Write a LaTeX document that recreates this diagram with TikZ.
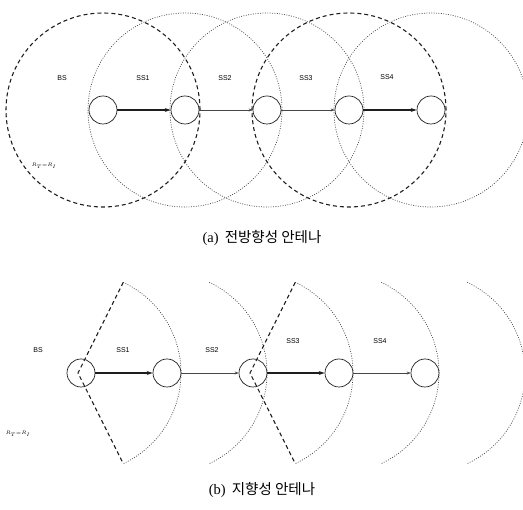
\documentclass[tikz,border=0pt]{standalone}
\usepackage{fontspec}
\setmainfont{Liberation Serif}
\setsansfont{Liberation Sans}
\newfontfamily\krfont{Noto Sans CJK KR}
\usetikzlibrary{arrows.meta}
\definecolor{ant@gray}{RGB}{70, 70, 70}
\definecolor{ant@dark}{RGB}{30, 30, 30}

\begin{document}
\begin{tikzpicture}[
  x=1pt, y=1pt,
  stn/.style    = {circle, draw=ant@dark, line width=0.7pt, minimum size=28pt,
                   inner sep=0pt},
  txrange/.style = {draw=ant@dark, dash pattern=on 4pt off 3pt, line width=1.1pt},
  rxrange/.style = {draw=ant@gray, dash pattern=on 0.9pt off 1.5pt, line width=0.7pt},
  strong/.style = {-{Stealth[length=6pt,width=4pt]}, ant@dark, line width=1.7pt},
  weak/.style   = {-{Stealth[length=4pt,width=3pt]}, ant@gray, line width=0.6pt},
  lbl/.style    = {font=\sffamily\fontsize{7}{8}\selectfont, inner sep=0pt},
  rlbl/.style   = {font=\fontsize{5}{6}\selectfont\itshape, inner sep=0pt},
  captxt/.style = {font=\fontsize{14.5}{16}\selectfont, inner sep=0pt},
]
  \useasboundingbox (0,0) rectangle (523,-510);

  % (a) omni-directional
  \node[stn] (a0) at (103,-110) {};
  \node[stn] (a1) at (185,-110) {};
  \node[stn] (a2) at (267,-110) {};
  \node[stn] (a3) at (349,-110) {};
  \node[stn] (a4) at (431,-110) {};

  \draw[txrange] (a0.center) circle[radius=97pt];
  \draw[rxrange] (a1.center) circle[radius=97pt];
  \draw[rxrange] (a2.center) circle[radius=97pt];
  \draw[txrange] (a3.center) circle[radius=97pt];
  \draw[rxrange] (a4.center) circle[radius=97pt];

  \node[lbl] (abs) at (62,-78)  {BS};
  \node[lbl] (as1) at (143,-78) {SS1};
  \node[lbl] (as2) at (225,-78) {SS2};
  \node[lbl] (as3) at (306,-78) {SS3};
  \node[lbl] (as4) at (387,-77) {SS4};
  \node[rlbl] (ar) at (44,-166) {$R_T{=}R_I$};

  \draw[strong] (a0.east) -- (a1.west);
  \draw[weak]   (a1.east) -- (a2.west);
  \draw[weak]   (a2.east) -- (a3.west);
  \draw[strong] (a3.east) -- (a4.west);

  \node[captxt] (capa) at (262,-238) {(a)\, {\krfont 전방향성 안테나}};

  % (b) directional
  \node[stn] (b0) at (81,-373)  {};
  \node[stn] (b1) at (167,-373) {};
  \node[stn] (b2) at (253,-373) {};
  \node[stn] (b3) at (339,-373) {};
  \node[stn] (b4) at (425,-373) {};

  \foreach \s in {b0,b1,b2,b3,b4}
    \draw[rxrange] ([shift={(65:100pt)}]\s.center) arc[start angle=65, end angle=-65, radius=100pt];
  \draw[txrange] ([shift={(65:100pt)}]b0.center) -- ([xshift=-3pt]b0.center)
                 -- ([shift={(-65:100pt)}]b0.center);
  \draw[txrange] ([shift={(65:100pt)}]b2.center) -- ([xshift=-3pt]b2.center)
                 -- ([shift={(-65:100pt)}]b2.center);

  \node[lbl] (bbs) at (38,-350)  {BS};
  \node[lbl] (bs1) at (123,-350) {SS1};
  \node[lbl] (bs2) at (212,-350) {SS2};
  \node[lbl] (bs3) at (293,-341) {SS3};
  \node[lbl] (bs4) at (380,-341) {SS4};
  \node[rlbl] (br) at (18,-434) {$R_T{=}R_I$};

  \draw[strong] (b0.east) -- (b1.west);
  \draw[weak]   (b1.east) -- (b2.west);
  \draw[strong] (b2.east) -- (b3.west);
  \draw[weak]   (b3.east) -- (b4.west);

  \node[captxt] (capb) at (262,-490) {(b)\, {\krfont 지향성 안테나}};
\end{tikzpicture}
\end{document}
